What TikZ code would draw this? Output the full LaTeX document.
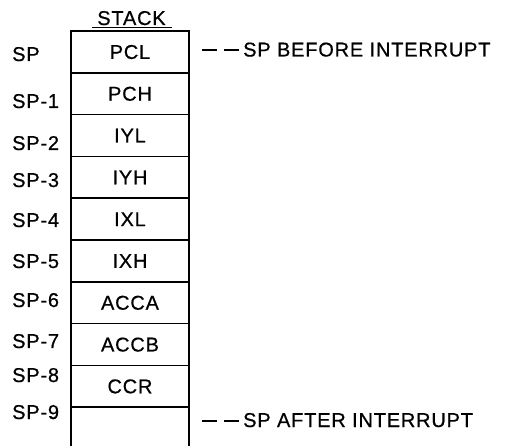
\documentclass[tikz,border=0pt]{standalone}
\usepackage{fontspec}
\setmainfont{Liberation Sans}[LetterSpace=4,FakeBold=0.6]
\newcommand{\dsh}{\rule[5.5pt]{15pt}{1.8pt}}
\begin{document}
\begin{tikzpicture}[x=1pt,y=-1pt,
  every node/.style={font=\fontsize{20}{24}\selectfont},
  cell/.style={draw, line width=1.6pt, minimum width=118pt, minimum height=41.8pt,
    inner sep=0pt, outer sep=0pt, anchor=north, text height=14pt, text depth=0pt},
  opencell/.style={minimum width=118pt, minimum height=38.8pt,
    inner sep=0pt, outer sep=0pt, anchor=north},
  lab/.style={anchor=west, inner sep=0pt, text height=14pt, text depth=0pt},
  side/.style={line width=1.6pt}]
\useasboundingbox (0,0) rectangle (506,446);
\fill[white] (0,0) rectangle (506,446);
% stack title
\node[inner sep=0pt, text height=13pt, text depth=0pt] (stack) at (131.5,18.5) {STACK};
\coordinate (ul1) at (92,27.5);
\coordinate (ul2) at (172,27.5);
\draw[line width=1.3pt] (ul1) -- (ul2);
% cells
\node[cell] (c0) at (130,31) {PCL};
\node[cell] (c1) at (c0.south) {PCH};
\node[cell] (c2) at (c1.south) {IYL};
\node[cell] (c3) at (c2.south) {IYH};
\node[cell] (c4) at (c3.south) {IXL};
\node[cell] (c5) at (c4.south) {IXH};
\node[cell] (c6) at (c5.south) {ACCA};
\node[cell] (c7) at (c6.south) {ACCB};
\node[cell] (c8) at (c7.south) {CCR};
\node[opencell] (c9) at (c8.south) {};
\draw[side] (c9.north west) -- (c9.south west);
\draw[side] (c9.north east) -- (c9.south east);
% addresses
\node[lab] (a0) at (12,54) {SP};
\node[lab] (a1) at (12,101) {SP-1};
\node[lab] (a2) at (12,143) {SP-2};
\node[lab] (a3) at (12,180) {SP-3};
\node[lab] (a4) at (12,220) {SP-4};
\node[lab] (a5) at (12,261) {SP-5};
\node[lab] (a6) at (12,300) {SP-6};
\node[lab] (a7) at (12,341) {SP-7};
\node[lab] (a8) at (12,375) {SP-8};
\node[lab] (a9) at (12,412) {SP-9};
% pointers
\node[lab] (before) at (202,49.5) {\dsh\hspace{7pt}\dsh\hspace{4pt}SP BEFORE INTERRUPT};
\node[lab] (after) at (202,420) {\dsh\hspace{7pt}\dsh\hspace{4pt}SP AFTER INTERRUPT};
\end{tikzpicture}
\end{document}
